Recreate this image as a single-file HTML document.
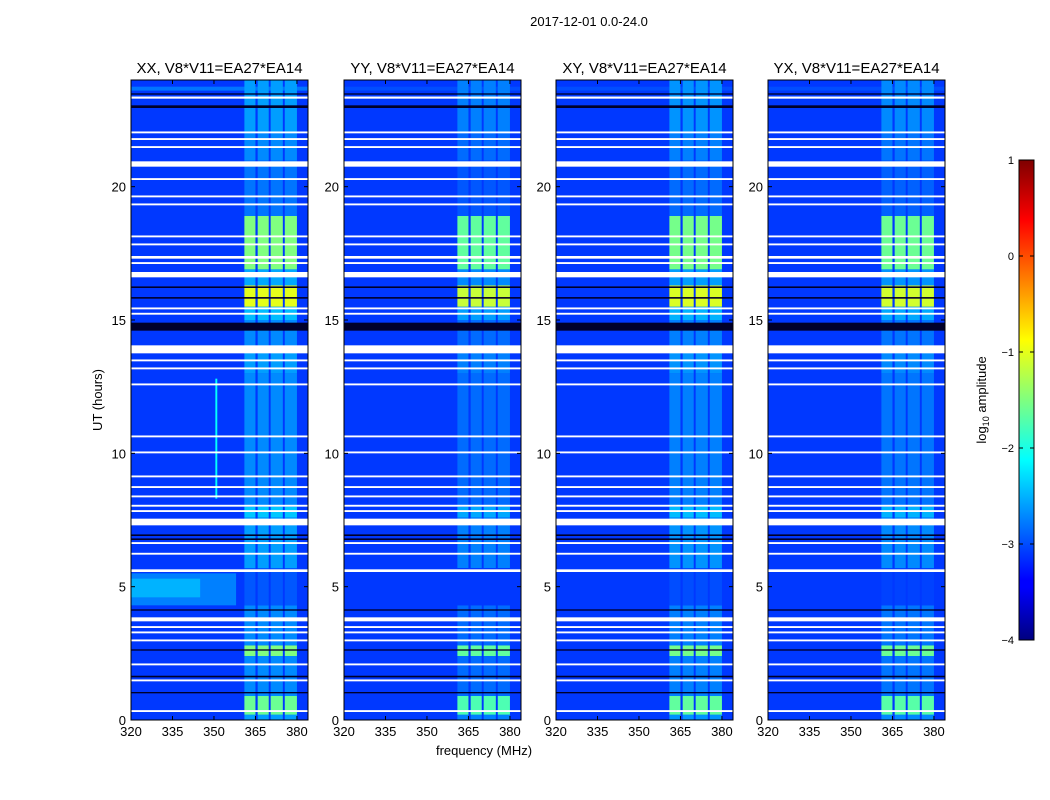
<!DOCTYPE html>
<html><head><meta charset="utf-8"><style>
body{margin:0;background:#fff;font-family:"Liberation Sans",sans-serif}
svg{display:block}
</style></head><body>
<svg id="chart" width="1050" height="800" viewBox="0 0 1050 800" xmlns="http://www.w3.org/2000/svg" font-family="Liberation Sans, sans-serif">
<defs>
<linearGradient id="jet" x1="0" y1="1" x2="0" y2="0">
<stop offset="0" stop-color="#00007f"/><stop offset="0.11" stop-color="#0000ff"/><stop offset="0.125" stop-color="#0000ff"/>
<stop offset="0.375" stop-color="#00ffff"/><stop offset="0.625" stop-color="#ffff00"/><stop offset="0.875" stop-color="#ff0000"/><stop offset="1" stop-color="#7f0000"/>
</linearGradient>
</defs>
<text x="589" y="26" font-size="13" text-anchor="middle">2017-12-01 0.0-24.0</text>
<text transform="translate(102,400) rotate(-90)" font-size="13" text-anchor="middle">UT (hours)</text>
<text x="484" y="755" font-size="13" text-anchor="middle">frequency (MHz)</text>
<g id="panels"></g>
<g>
<rect x="1019" y="160" width="15" height="480" fill="url(#jet)" stroke="#000" stroke-width="1"/>
<g id="cbticks"></g>
<text transform="translate(986,400) rotate(-90)" font-size="13" text-anchor="middle">log<tspan font-size="9" dy="3">10</tspan><tspan dy="-3"> amplitude</tspan></text>
</g>
</svg>
<script>
const panelTitles=["XX, V8*V11=EA27*EA14","YY, V8*V11=EA27*EA14","XY, V8*V11=EA27*EA14","YX, V8*V11=EA27*EA14"];
const panelGain=[0,-0.15,-0.05,-0.1];
const baseLevel=-3.1;
const xTicks=[320,335,350,365,380];
const yTicks=[0,5,10,15,20];
const cbTicks=[1,0,-1,-2,-3,-4];
const bandLow=[361,365.8,370.5,375.6];
const bandHigh=[365,369.8,374.9,380];
const segStart=[0,0.2,0.9,2.4,2.8,4.3,5.7,7.6,8.0,13.0,14.0,15.0,15.5,16.3,16.9,18.9,21.0,22.0];
const segEnd=[0.2,0.9,2.4,2.8,4.3,5.7,7.6,8.0,13.0,14.0,15.0,15.5,16.3,16.9,18.9,21.0,22.0,24.0];
const segLevel=[-2.6,-1.6,-2.7,-1.5,-2.7,-2.95,-2.6,-2.4,-2.7,-2.6,-2.7,-2.45,-1.0,-2.55,-1.5,-2.8,-2.7,-2.6];
const patchF0=[320,320,350.5,320];
const patchF1=[358,345,351.2,384];
const patchT0=[4.3,4.6,8.3,23.6];
const patchT1=[5.5,5.3,12.8,23.75];
const patchLevel=[-2.75,-2.5,-2.1,-2.8];
const patchPanel=[0,0,0,-1];
const flagT0=[20.75,16.6,13.75,7.3,5.55,3.7,23.3,22.0,21.75,21.45,20.25,19.6,19.3,18.1,17.8,17.3,17.1,15.4,15.2,13.45,13.15,12.55,10.6,10.0,9.1,8.7,8.35,8.0,7.8,6.6,6.2,3.45,3.25,2.95,2.05,1.45,0.3];
const flagT1=[20.95,16.8,14.05,7.55,5.65,3.85,23.38,22.07,21.82,21.52,20.32,19.67,19.37,18.17,17.87,17.4,17.17,15.47,15.27,13.52,13.22,12.62,10.67,10.07,9.17,8.77,8.42,8.07,7.87,6.67,6.27,3.52,3.32,3.02,2.12,1.52,0.37];
const blackT0=[14.6,22.95,23.45,4.1,1.6,16.2,15.8,6.9,6.75,2.6,1.0];
const blackT1=[14.9,23.05,23.5,4.15,1.66,16.26,15.86,6.96,6.81,2.65,1.05];

const NS="http://www.w3.org/2000/svg";
const panelX=[131,344,556,768], PW=177, PT=80, PB=720;
function jet(v){let t=(v+4)/5;t=Math.max(0,Math.min(1,t));
 const f=x=>Math.max(0,Math.min(1,x));
 const r=f(Math.min(4*t-1.5,-4*t+4.5)),g=f(Math.min(4*t-0.5,-4*t+3.5)),b=f(Math.min(4*t+0.5,-4*t+2.5));
 return `rgb(${Math.round(r*255)},${Math.round(g*255)},${Math.round(b*255)})`;}
function mk(tag,attrs,parent){const e=document.createElementNS(NS,tag);for(const k in attrs)e.setAttribute(k,attrs[k]);parent.appendChild(e);return e;}
const root=document.getElementById('panels');
panelX.forEach((x0,p)=>{
 const fx=f=>x0+(f-320)*PW/64, ty=t=>PB-t*(PB-PT)/24;
 const g=mk('g',{},root);
 
 
 const bg=mk('rect',{x:x0,y:PT,width:PW,height:PB-PT,fill:jet(baseLevel)},g);
 
 
 for(let i=0;i<patchF0.length;i++){ if(patchPanel[i]>=0&&patchPanel[i]!==p)continue;
  const r=mk('rect',{x:fx(patchF0[i]),y:ty(patchT1[i]),width:fx(patchF1[i])-fx(patchF0[i]),height:ty(patchT0[i])-ty(patchT1[i]),fill:jet(patchLevel[i]+(p?-0.2:0))},g);
  
  }
 for(let s=0;s<segStart.length;s++) for(let b=0;b<bandLow.length;b++){
  const r=mk('rect',{x:fx(bandLow[b]),y:ty(segEnd[s]),width:fx(bandHigh[b])-fx(bandLow[b]),height:ty(segStart[s])-ty(segEnd[s]),fill:jet(segLevel[s]+panelGain[p])},g);
  
  }
 for(let i=0;i<blackT0.length;i++){const r=mk('rect',{x:x0,y:ty(blackT1[i]),width:PW,height:ty(blackT0[i])-ty(blackT1[i]),fill:'#00002a'},g);
  
  }
 for(let i=0;i<flagT0.length;i++){const r=mk('rect',{x:x0,y:ty(flagT1[i]),width:PW,height:ty(flagT0[i])-ty(flagT1[i]),fill:'#fff'},g);
  
  }
 const fr=mk('rect',{x:x0,y:PT,width:PW,height:PB-PT,fill:'none',stroke:'#000','stroke-width':1},g);
 
 
 const tt=mk('text',{x:x0+PW/2,y:73,'font-size':15,'text-anchor':'middle'},g);tt.textContent=panelTitles[p];
 
 
 xTicks.forEach(v=>{const X=fx(v);mk('line',{x1:X,x2:X,y1:PB,y2:PB-4,stroke:'#000'},g);mk('line',{x1:X,x2:X,y1:PT,y2:PT+4,stroke:'#000'},g);
  const l=mk('text',{x:X,y:PB+16,'font-size':13,'text-anchor':'middle'},g);l.textContent=v;
  
  });
 yTicks.forEach(v=>{const Y=ty(v);mk('line',{x1:x0,x2:x0+4,y1:Y,y2:Y,stroke:'#000'},g);mk('line',{x1:x0+PW,x2:x0+PW-4,y1:Y,y2:Y,stroke:'#000'},g);
  const l=mk('text',{x:x0-5,y:Y+5,'font-size':13,'text-anchor':'end'},g);l.textContent=v;
  
  });
});
const cb=document.getElementById('cbticks');
cbTicks.forEach(v=>{const Y=640-(v+4)*480/5;
 mk('line',{x1:1019,x2:1023,y1:Y,y2:Y,stroke:'#000'},cb);mk('line',{x1:1034,x2:1030,y1:Y,y2:Y,stroke:'#000'},cb);
 const l=mk('text',{x:1014,y:Y+4,'font-size':11,'text-anchor':'end'},cb);l.textContent=v<0?'\u2212'+(-v):v;
 
 });
</script>
</body></html>
